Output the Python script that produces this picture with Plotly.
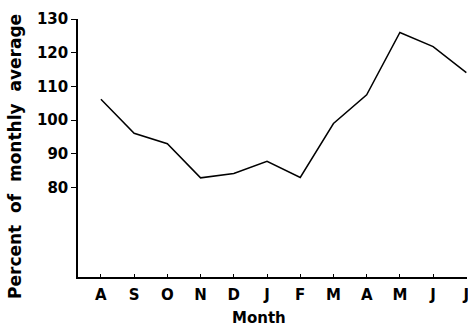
import plotly.graph_objects as go

months = ["A", "S", "O", "N", "D", "J", "F", "M", "A", "M", "J", "J"]
percent = [106.2, 96.1, 93.0, 82.9, 84.2, 87.8, 83.0, 99.0, 107.5, 126.0, 121.8, 114.1]
y_ticks = [80, 90, 100, 110, 120, 130]

x_idx = list(range(len(months)))

fig = go.Figure()
fig.add_trace(go.Scatter(x=x_idx, y=percent, mode="lines",
                         line=dict(color="black", width=1.5), showlegend=False))

bold = dict(family="DejaVu Sans", color="black", weight="bold")
gap = "\u00a0\u00a0"

fig.update_layout(
    width=468, height=328,
    margin=dict(l=78, r=1, t=19, b=51, autoexpand=False),
    paper_bgcolor="white", plot_bgcolor="white",
    xaxis=dict(range=[-0.69, 11.02], tickmode="array", tickvals=x_idx, ticktext=months,
               showline=True, linecolor="black", linewidth=1.5, showgrid=False, zeroline=False,
               ticks="inside", ticklen=3, tickcolor="black", tickwidth=1, automargin=False,
               ticklabeloverflow="allow", ticklabelstandoff=3,
               tickfont=dict(size=15, **bold)),
    yaxis=dict(range=[53.5, 130], tickmode="array", tickvals=y_ticks,
               showline=True, linecolor="black", linewidth=1.5, showgrid=False, zeroline=False,
               ticks="outside", ticklen=5, tickcolor="black", tickwidth=1, automargin=False,
               tickfont=dict(size=15, **bold)),
    annotations=[
        dict(text=gap.join(["Percent", "of", "monthly", "average"]), xref="paper", yref="paper",
             x=-0.162, y=0.469, xanchor="center", yanchor="middle", textangle=-90,
             showarrow=False, font=dict(size=17, **bold)),
        dict(text="Month", xref="paper", yref="paper", x=0.465, y=-0.159,
             xanchor="center", yanchor="middle", showarrow=False, font=dict(size=15, **bold)),
    ],
)

fig.write_html("out.html", config={"displayModeBar": False},
               post_script="document.body.style.margin='0';document.body.style.padding='0';")
